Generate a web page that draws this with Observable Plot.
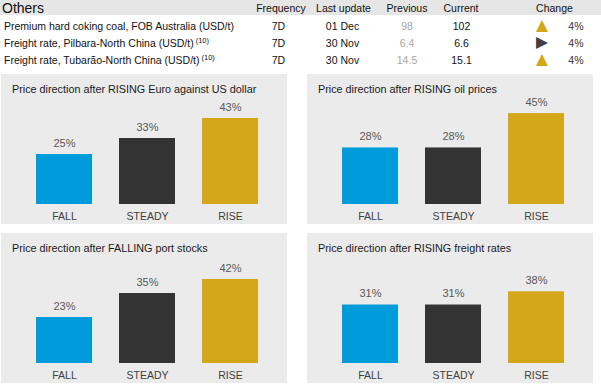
<!DOCTYPE html>
<html>
<head>
<meta charset="utf-8">
<script src="https://cdn.jsdelivr.net/npm/d3@7"></script>
<script src="https://cdn.jsdelivr.net/npm/@observablehq/plot@0.6"></script>
<style>
  html, body { margin: 0; padding: 0; background: #fff; }
  #root { position: relative; width: 601px; height: 390px; overflow: hidden; font-family: "Liberation Sans", Arial, sans-serif; }
  .cell { position: absolute; white-space: nowrap; font-size: 10.5px; line-height: 14px; color: #111; }
  .c { transform: translateX(-50%); }
  .r { transform: translateX(-100%); }
  .hdrbg { position: absolute; left: 0; top: 0; width: 601px; height: 15px; background: #e6e6e6; }
  .panel { position: absolute; width: 286px; height: 150px; background: #ebebeb; }
  .ptitle { position: absolute; left: 11px; top: 8px; font-size: 10.8px; line-height: 14px; color: #1a1a1a; white-space: nowrap; }
  .panel svg { position: absolute; left: 0; top: 0; }
  sup { font-size: 7.5px; vertical-align: 4px; line-height: 0; margin-left: 2px; }
  .tri { font-family: "DejaVu Sans", sans-serif; font-size: 15.5px; line-height: 14px; }
</style>
</head>
<body>
<div id="root"></div>
<script>
// ---- Table data ----
const tableTitle = "Others";
const tableHeaders = ["Frequency", "Last update", "Previous", "Current", "Change"];
const itemNames = ["Premium hard coking coal, FOB Australia (USD/t)", "Freight rate, Pilbara-North China (USD/t)", "Freight rate, Tubarão-North China (USD/t)"];
const itemNotes = ["", "(10)", "(10)"];
const frequency = ["7D", "7D", "7D"];
const lastUpdate = ["01 Dec", "30 Nov", "30 Nov"];
const previous = ["98", "6.4", "14.5"];
const current = ["102", "6.6", "15.1"];
const direction = ["up", "flat", "up"];
const change = ["4%", "4%", "4%"];

// ---- Chart data ----
const categories = ["FALL", "STEADY", "RISE"];
const panelTitles = [
  "Price direction after RISING Euro against US dollar",
  "Price direction after RISING oil prices",
  "Price direction after FALLING port stocks",
  "Price direction after RISING freight rates"
];
const euroValues = [25, 33, 43];
const oilValues = [28, 28, 45];
const portValues = [23, 35, 42];
const freightValues = [31, 31, 38];

const barColors = ["#009bda", "#333333", "#d4a619"];

const root = document.getElementById("root");

function addCell(text, x, yc, cls, style) {
  const d = document.createElement("div");
  d.className = "cell " + (cls || "");
  d.style.left = x + "px";
  d.style.top = (yc - 7) + "px";
  if (style) Object.assign(d.style, style);
  d.innerHTML = text;
  root.appendChild(d);
  return d;
}

// header
const bg = document.createElement("div");
bg.className = "hdrbg";
root.appendChild(bg);
addCell(tableTitle, 2, 8, "", { fontSize: "14px", lineHeight: "16px", top: "0px" });
const hdrX = [281, 343.5, 407, 461, 554.5];
tableHeaders.forEach((h, i) => addCell(h, hdrX[i], 8.3, "c"));

const rowY = [25.5, 42.5, 59.5];
itemNames.forEach((name, i) => {
  const note = itemNotes[i] ? `<sup>${itemNotes[i]}</sup>` : "";
  addCell(name + note, 4, rowY[i], "");
  addCell(frequency[i], 278.5, rowY[i], "c");
  addCell(lastUpdate[i], 342.5, rowY[i], "c");
  addCell(previous[i], 407, rowY[i], "c", { color: "#a6a6a6" });
  addCell(current[i], 461.5, rowY[i], "c");
  const sym = direction[i] === "up" ? "▲" : "▶";
  const col = direction[i] === "up" ? "#d4a619" : "#404040";
  addCell(`<span class="tri" style="color:${col}">${sym}</span>`, 542, rowY[i] - 0.5, "c");
  addCell(change[i], 583.5, rowY[i], "r", { color: "#333" });
});

// panels
const panelValues = [euroValues, oilValues, portValues, freightValues];
const panelPos = [[1, 74], [307, 74], [1, 233], [307, 233]];
const yMax = [50, 49.5, 50, 53];

panelValues.forEach((vals, p) => {
  const wrap = document.createElement("div");
  wrap.className = "panel";
  wrap.style.left = panelPos[p][0] + "px";
  wrap.style.top = panelPos[p][1] + "px";
  const data = categories.map((c, i) => ({ cat: c, value: vals[i] }));
  const chart = Plot.plot({
    width: 286, height: 150,
    marginLeft: 20, marginRight: 15, marginTop: 30, marginBottom: 20,
    style: { background: "transparent", fontFamily: "'Liberation Sans', Arial, sans-serif", overflow: "visible" },
    x: { domain: categories, paddingInner: 0.33, paddingOuter: 0.165, label: null },
    y: { domain: [0, yMax[p]], axis: null },
    color: { domain: categories, range: barColors },
    marks: [
      Plot.barY(data, { x: "cat", y: "value", fill: "cat" }),
      Plot.text(data, { x: "cat", y: "value", text: d => d.value + "%", dy: -11.5, lineAnchor: "middle", fill: "#595959", fontSize: 11 }),
      Plot.axisX({ tickSize: 0, tickPadding: 8.5, fontSize: 10.5, color: "#404040", label: null })
    ]
  });
  wrap.appendChild(chart);
  const t = document.createElement("div");
  t.className = "ptitle";
  t.textContent = panelTitles[p];
  wrap.appendChild(t);
  root.appendChild(wrap);
});
</script>
</body>
</html>
